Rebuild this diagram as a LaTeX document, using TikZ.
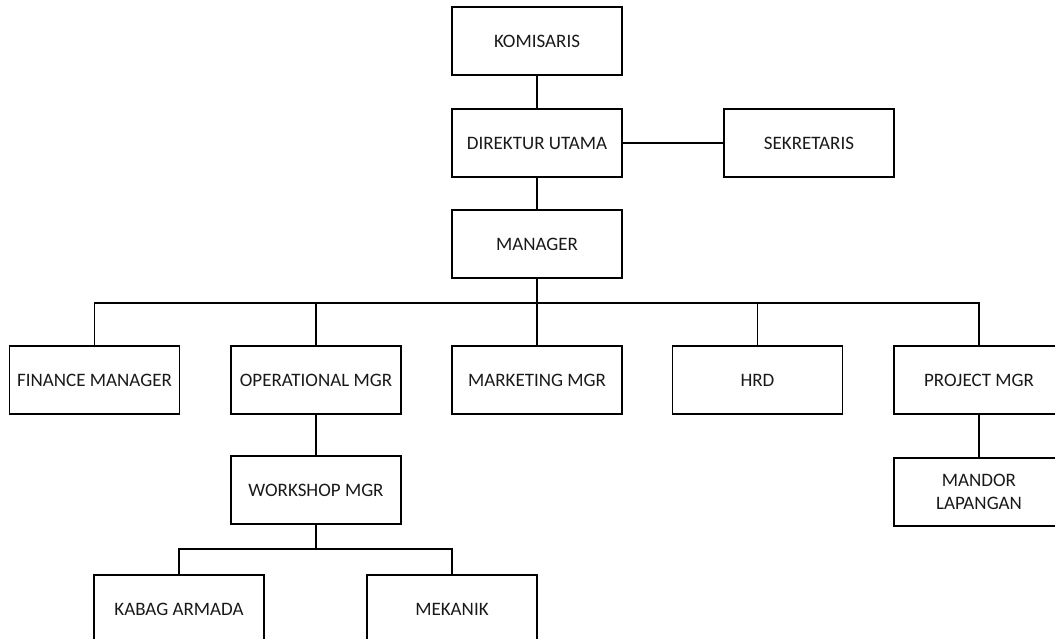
\documentclass[tikz,border=0pt]{standalone}
\usepackage{fontspec}
\setmainfont{Carlito}
\begin{document}
\begin{tikzpicture}[x=1pt,y=-1pt,
  orgbox/.style={draw=black, line width=1.5pt, minimum width=170pt, minimum height=68pt,
    inner sep=0pt, align=center, font=\fontsize{19}{23}\selectfont, text=black!90},
  link/.style={draw=black, line width=1.5pt}]
\useasboundingbox (0,0) rectangle (1055,639);
\clip (0,0) rectangle (1055,639);
\node[orgbox] (kom) at (537,41) {KOMISARIS};
\node[orgbox] (dir) at (537,143) {DIREKTUR UTAMA};
\node[orgbox] (sek) at (809,143) {SEKRETARIS};
\node[orgbox] (man) at (537,244) {MANAGER};
\node[orgbox] (fin) at (94.5,380) {FINANCE MANAGER};
\node[orgbox] (ope) at (316,380) {OPERATIONAL MGR};
\node[orgbox] (mkt) at (537,380) {MARKETING MGR};
\node[orgbox] (hrd) at (757.5,380) {HRD};
\node[orgbox] (prj) at (979,380) {PROJECT MGR};
\node[orgbox] (wor) at (316,490) {WORKSHOP MGR};
\node[orgbox] (mdr) at (979,492) {MANDOR\\LAPANGAN};
\node[orgbox] (kab) at (179,609) {KABAG ARMADA};
\node[orgbox] (mek) at (452,609) {MEKANIK};
\coordinate (bus) at (537,303);
\coordinate (sub) at (316,549);
\draw[link] (kom.south) -- (dir.north);
\draw[link] (dir.east) -- (sek.west);
\draw[link] (dir.south) -- (man.north);
\draw[link] (man.south) -- (mkt.north);
\draw[link] (fin.north) |- (bus);
\draw[link] (ope.north) |- (bus);
\draw[link] (hrd.north) |- (bus);
\draw[link] (prj.north) |- (bus);
\draw[link] (ope.south) -- (wor.north);
\draw[link] (prj.south) -- (mdr.north);
\draw[link] (wor.south) -- (sub);
\draw[link] (kab.north) |- (sub);
\draw[link] (mek.north) |- (sub);
\end{tikzpicture}
\end{document}
